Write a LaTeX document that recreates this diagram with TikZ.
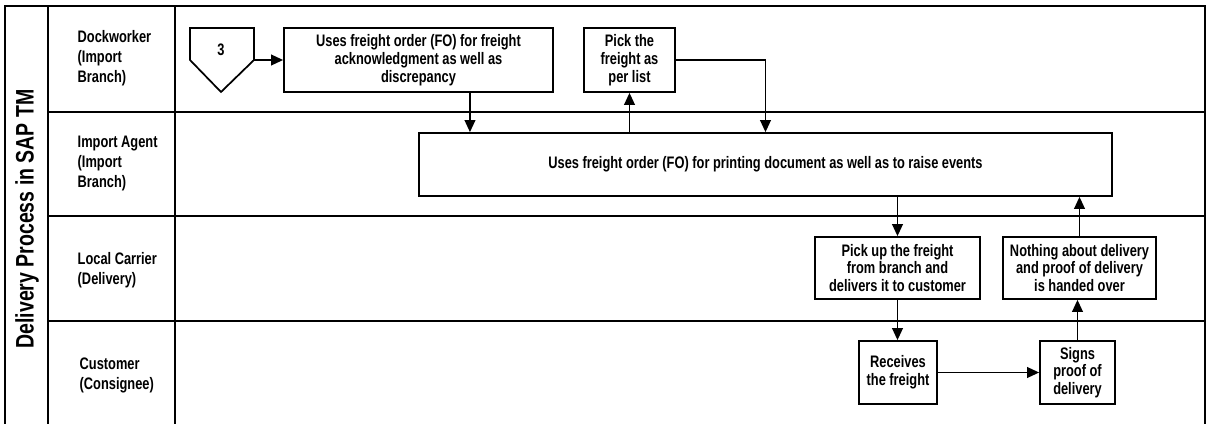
\documentclass[tikz,border=0pt]{standalone}
\usepackage{fontspec}
\setmainfont{Liberation Sans}[FakeStretch=0.77, BoldFont={Liberation Sans Bold}, BoldFeatures={FakeStretch=0.77}]
\usetikzlibrary{arrows.meta}

\begin{document}
\begin{tikzpicture}[x=0.75pt, y=-0.75pt, font=\bfseries\fontsize{12.5}{13.3}\selectfont,
    lane/.style = {line width=2pt},
    stepbox/.style = {draw, line width=1.3pt, align=center, inner sep=2pt},
    flow/.style = {line width=1.3pt, -{Stealth[length=9pt, width=8pt, inset=0pt]}},
    role/.style = {anchor=west, align=left, font=\bfseries\fontsize{12.5}{15}\selectfont}]
  \useasboundingbox (0,0) rectangle (1211,424);
  \draw[lane] (5,424) -- (5,6) -- (1205,6) -- (1205,424);
  \draw[lane] (48,6) -- (48,424);
  \draw[lane] (175,6) -- (175,424);
  \foreach \y in {112,216,321}
    \draw[lane] (48,\y) -- (1205,\y);
  \node[rotate=90, font=\bfseries\fontsize{19}{20}\selectfont] (title) at (27,219) {Delivery Process in SAP TM};
  \node[role] (dock) at (73,58) {Dockworker\\(Import\\Branch)};
  \node[role] (agent) at (73,163) {Import Agent\\(Import\\Branch)};
  \node[role] (carrier) at (73,270) {Local Carrier\\(Delivery)};
  \node[role] (customer) at (75,375) {Customer\\(Consignee)};
  \draw[line width=1.3pt] (190,28) -- (254,28) -- (254,60) -- (221,92) -- (190,60) -- cycle;
  \node (conn) at (221,50) {3};
  \coordinate (connout) at (254,60);
  \node[stepbox, minimum width=269*0.75pt, minimum height=64*0.75pt] (fack) at (418.5,60)
    {Uses freight order (FO) for freight\\acknowledgment as well as\\discrepancy};
  \node[stepbox, minimum width=91*0.75pt, minimum height=64*0.75pt] (pick) at (629.5,60)
    {Pick the\\freight as\\per list};
  \node[stepbox, minimum width=693*0.75pt, minimum height=63*0.75pt] (fprint) at (765.5,164.5)
    {Uses freight order (FO) for printing document as well as to raise events};
  \node[stepbox, minimum width=165*0.75pt, minimum height=62*0.75pt] (pickup) at (897.5,268)
    {Pick up the freight\\from branch and\\delivers it to customer};
  \node[stepbox, minimum width=153*0.75pt, minimum height=62*0.75pt] (nothing) at (1079.5,268)
    {Nothing about delivery\\and proof of delivery\\is handed over};
  \node[stepbox, minimum width=78*0.75pt, minimum height=63*0.75pt] (receive) at (898,372.5)
    {Receives\\the freight};
  \node[stepbox, minimum width=75*0.75pt, minimum height=63*0.75pt] (signs) at (1077.5,372.5)
    {Signs\\proof of\\delivery};
  \draw[flow] (connout) -- (fack.west);
  \draw[flow] ([xshift=38.6pt]fack.south) -- ([xshift=38.6pt]fack.south |- fprint.north);
  \draw[flow] (pick.south |- fprint.north) -- (pick.south);
  \draw[flow] (pick.east) -| (fprint.north);
  \draw[flow] (pickup.north |- fprint.south) -- (pickup.north);
  \draw[flow] (nothing.north) -- (nothing.north |- fprint.south);
  \draw[flow] (pickup.south) -- (pickup.south |- receive.north);
  \draw[flow] (receive.east) -- (signs.west);
  \draw[flow] (signs.north) -- (signs.north |- nothing.south);
\end{tikzpicture}
\end{document}
